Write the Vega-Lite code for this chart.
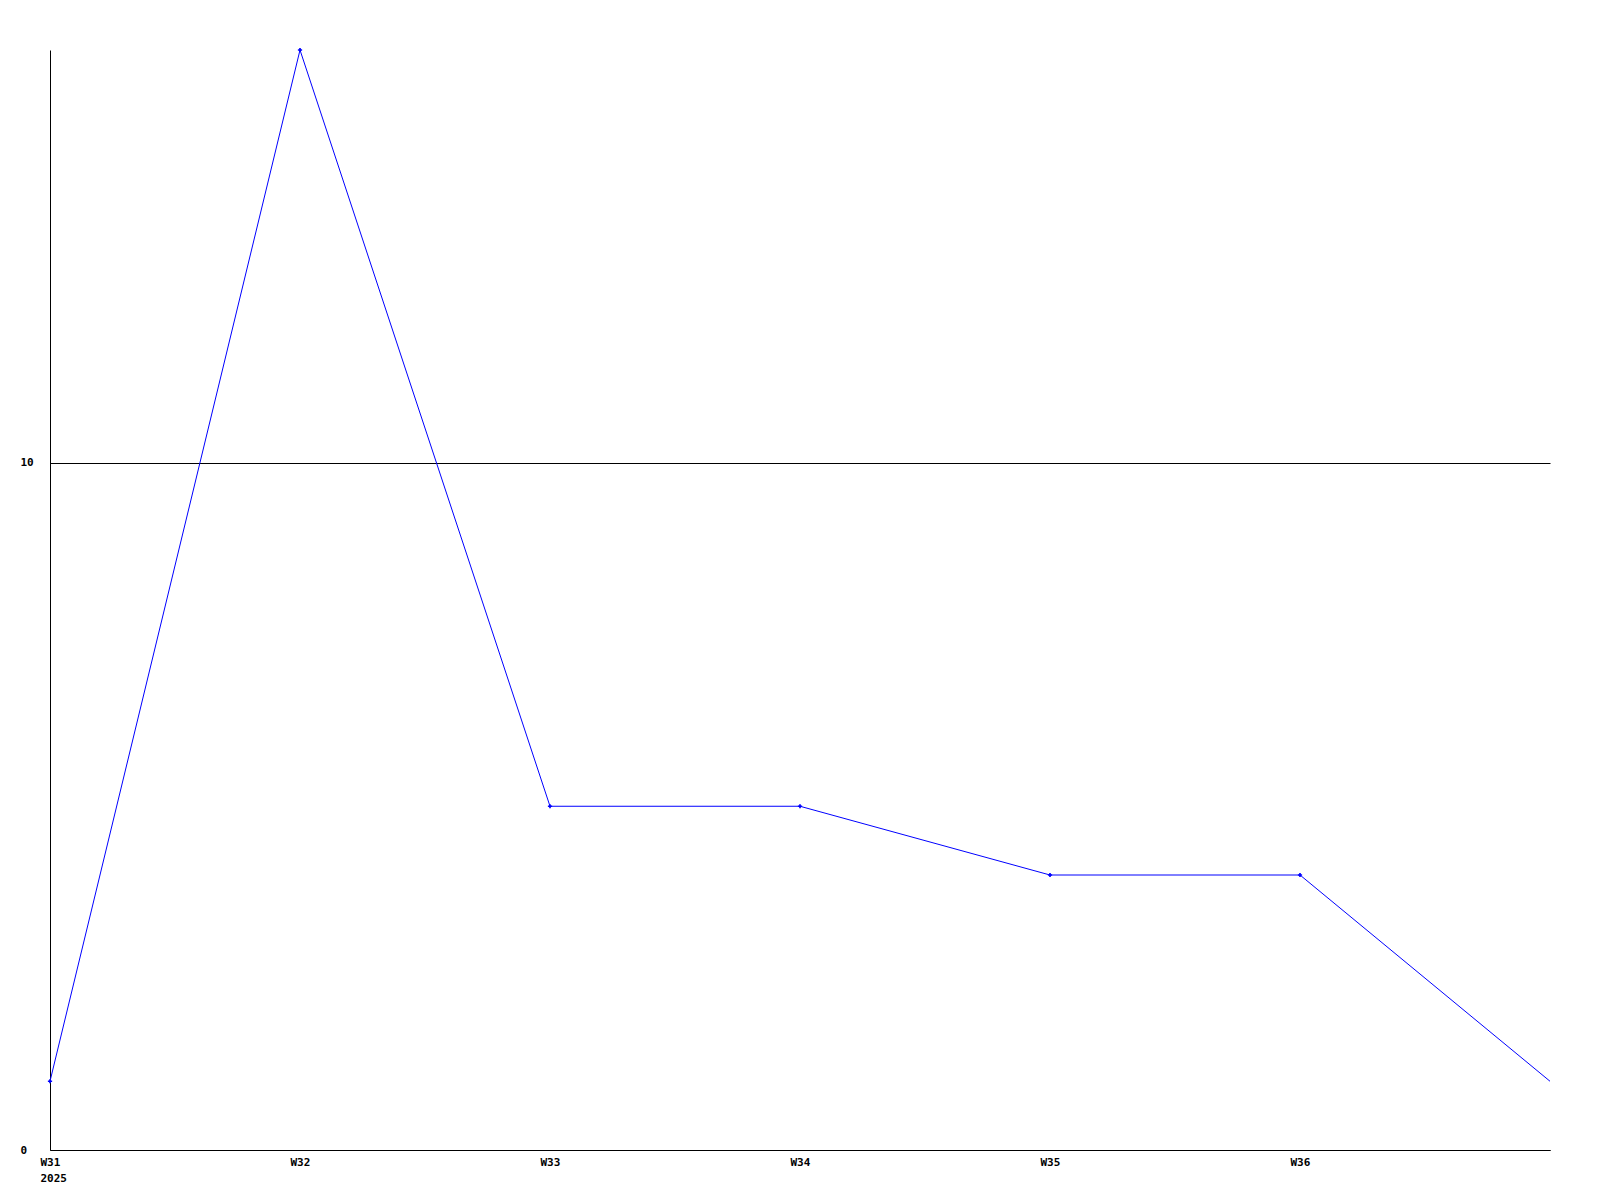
{
  "$schema": "https://vega.github.io/schema/vega-lite/v6.json",
  "width": 1500,
  "height": 1100,
  "autosize": {"type": "none"},
  "padding": {"left": 50, "top": 50, "right": 50, "bottom": 50},
  "background": "white",
  "config": {
    "view": {"stroke": null},
    "axis": {
      "labelFont": "DejaVu Sans Mono",
      "labelFontWeight": "bold",
      "labelFontSize": 11,
      "labelColor": "black",
      "domainColor": "black",
      "domainWidth": 1,
      "ticks": false,
      "title": null
    }
  },
  "data": {
    "values": [
      {"week": 31, "value": 1},
      {"week": 32, "value": 16},
      {"week": 33, "value": 5},
      {"week": 34, "value": 5},
      {"week": 35, "value": 4},
      {"week": 36, "value": 4},
      {"week": 37, "value": 1}
    ]
  },
  "encoding": {
    "x": {
      "field": "week",
      "type": "quantitative",
      "scale": {"domain": [31, 37], "nice": false, "zero": false},
      "axis": {
        "values": [31, 32, 33, 34, 35, 36],
        "labelExpr": "datum.value == 31 ? ['W31', '2025'] : 'W' + datum.value",
        "labelAlign": "left",
        "labelOffset": -10,
        "labelBaseline": "top",
        "labelPadding": 6,
        "labelLineHeight": 16,
        "grid": false,
        "labelFlush": false,
        "labelOverlap": false
      }
    },
    "y": {
      "field": "value",
      "type": "quantitative",
      "scale": {"domain": [0, 16], "nice": false},
      "axis": {
        "values": [0, 10],
        "labelAlign": "left",
        "labelPadding": 30,
        "labelBaseline": "middle",
        "grid": true,
        "gridColor": "black",
        "gridOpacity": 1,
        "gridWidth": 1,
        "labelFlush": false
      }
    }
  },
  "layer": [
    {"mark": {"type": "line", "color": "#0000ff", "strokeWidth": 1}},
    {
      "transform": [{"filter": "datum.week < 37"}],
      "mark": {"type": "point", "shape": "cross", "size": 18, "filled": true, "color": "#0000ff", "opacity": 1}
    }
  ]
}
